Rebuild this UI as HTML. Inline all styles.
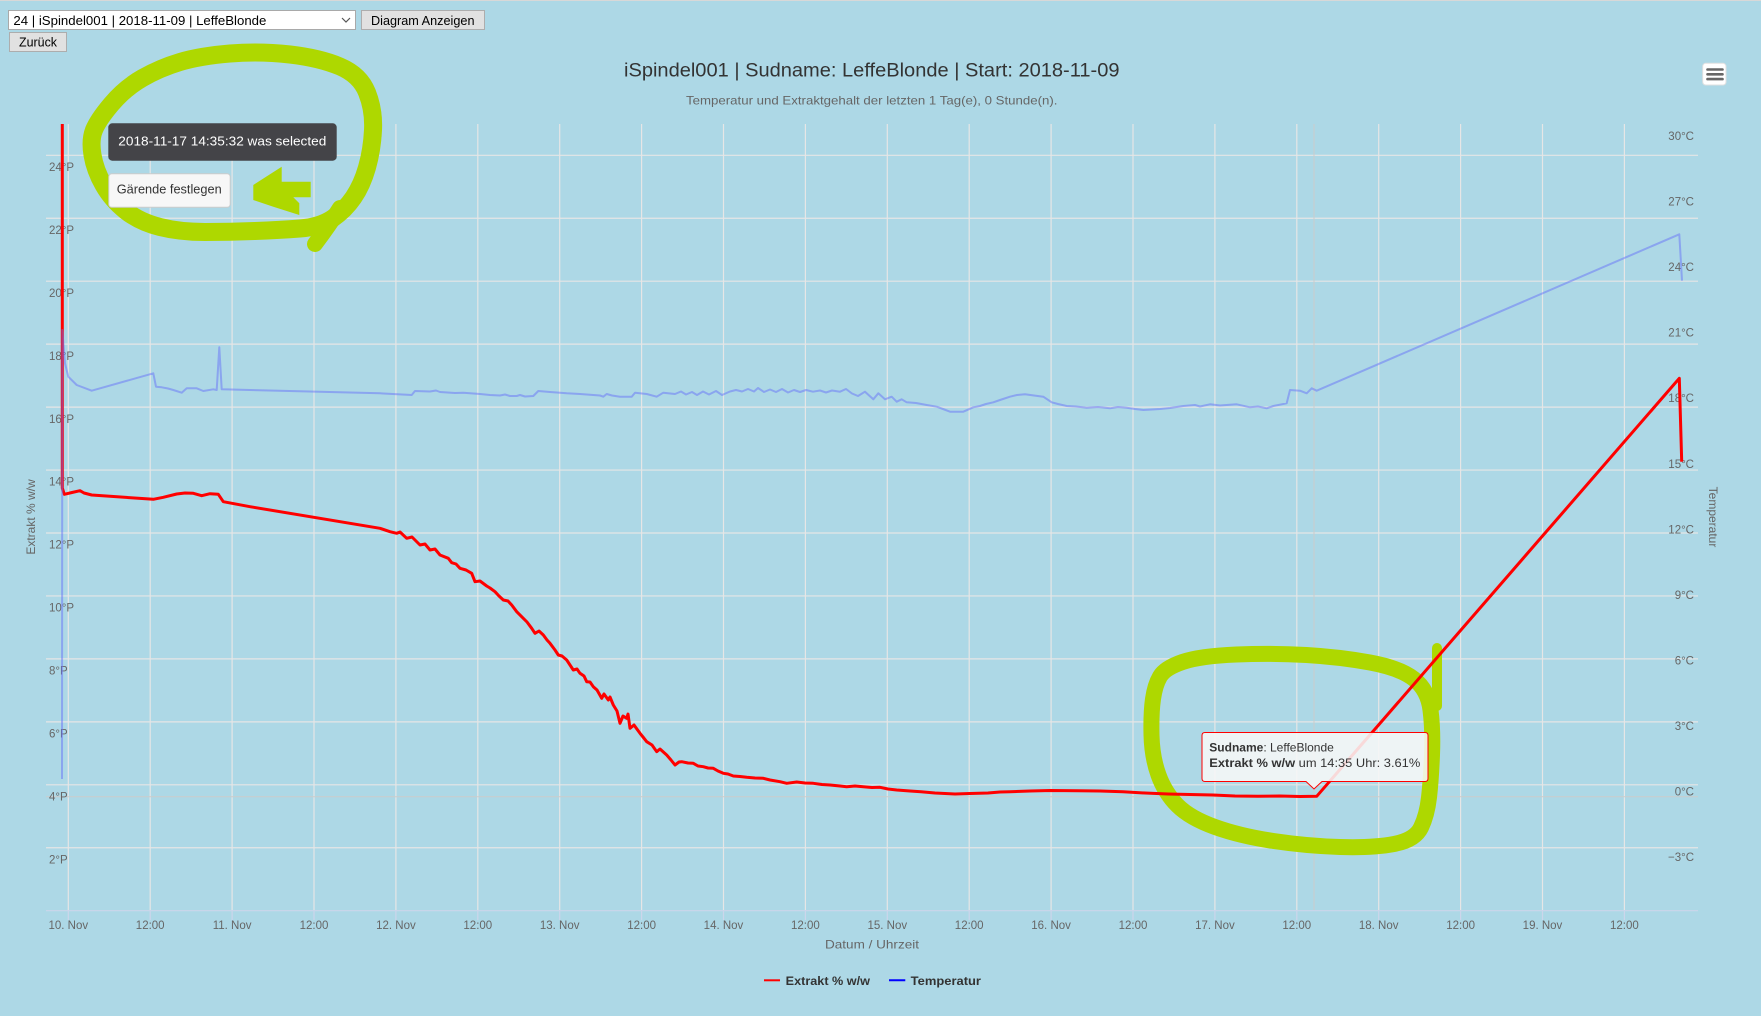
<!DOCTYPE html>
<html><head><meta charset="utf-8"><style>
html,body{margin:0;padding:0;background:#add8e6;}
svg{display:block;}
text{font-family:"Liberation Sans",sans-serif;}
</style></head><body>
<svg width="1761" height="1016" viewBox="0 0 1761 1016" xmlns="http://www.w3.org/2000/svg">
<rect x="0" y="0" width="1761" height="1016" fill="#add8e6"/>
<rect x="0" y="0" width="1761" height="1" fill="#d8d8d8"/>

<!-- form controls -->
<rect x="8.5" y="10.5" width="347" height="19" fill="#fff" stroke="#a9a9a9"/>
<text x="13.4" y="25" font-size="13" fill="#000" textLength="253" lengthAdjust="spacingAndGlyphs">24 | iSpindel001 | 2018-11-09 | LeffeBlonde</text>
<path d="M342 18 L346 22 L350 18" fill="none" stroke="#555" stroke-width="1.2"/>
<rect x="361.5" y="10.5" width="123" height="19" fill="#e1e1e1" stroke="#adadad"/>
<text x="371" y="25" font-size="13" fill="#000" textLength="103.5" lengthAdjust="spacingAndGlyphs">Diagram Anzeigen</text>
<rect x="9.5" y="32.5" width="57" height="19" fill="#e1e1e1" stroke="#adadad"/>
<text x="19" y="46.7" font-size="13" fill="#000" textLength="38" lengthAdjust="spacingAndGlyphs">Zurück</text>

<!-- title -->
<text x="624" y="76.7" font-size="19" fill="#333" textLength="495.5" lengthAdjust="spacingAndGlyphs">iSpindel001 | Sudname: LeffeBlonde | Start: 2018-11-09</text>
<text x="686" y="104.7" font-size="12" fill="#666" textLength="371.5" lengthAdjust="spacingAndGlyphs">Temperatur und Extraktgehalt der letzten 1 Tag(e), 0 Stunde(n).</text>

<!-- menu icon -->
<rect x="1702.7" y="63.3" width="23.3" height="21.7" rx="3" fill="#fff" stroke="#e0e0e0"/>
<g stroke="#666" stroke-width="2.6" stroke-linecap="round">
<line x1="1707.5" y1="69.5" x2="1722.5" y2="69.5"/>
<line x1="1707.5" y1="74.3" x2="1722.5" y2="74.3"/>
<line x1="1707.5" y1="79.1" x2="1722.5" y2="79.1"/>
</g>

<!-- gridlines -->
<g stroke="#e6e6e6" stroke-width="1.2">
<line x1="46" y1="155.3" x2="1698" y2="155.3"/>
<line x1="46" y1="218.25" x2="1698" y2="218.25"/>
<line x1="46" y1="281.2" x2="1698" y2="281.2"/>
<line x1="46" y1="344.15" x2="1698" y2="344.15"/>
<line x1="46" y1="407.1" x2="1698" y2="407.1"/>
<line x1="46" y1="470.05" x2="1698" y2="470.05"/>
<line x1="46" y1="533" x2="1698" y2="533"/>
<line x1="46" y1="595.95" x2="1698" y2="595.95"/>
<line x1="46" y1="658.9" x2="1698" y2="658.9"/>
<line x1="46" y1="721.85" x2="1698" y2="721.85"/>
<line x1="46" y1="784.8" x2="1698" y2="784.8"/>
<line x1="46" y1="847.75" x2="1698" y2="847.75"/>
</g>
<g stroke="#e6e6e6" stroke-width="1.2">
<line x1="68.3" y1="124" x2="68.3" y2="910"/>
<line x1="150.2" y1="124" x2="150.2" y2="910"/>
<line x1="232.1" y1="124" x2="232.1" y2="910"/>
<line x1="314" y1="124" x2="314" y2="910"/>
<line x1="395.9" y1="124" x2="395.9" y2="910"/>
<line x1="477.8" y1="124" x2="477.8" y2="910"/>
<line x1="559.7" y1="124" x2="559.7" y2="910"/>
<line x1="641.6" y1="124" x2="641.6" y2="910"/>
<line x1="723.5" y1="124" x2="723.5" y2="910"/>
<line x1="805.4" y1="124" x2="805.4" y2="910"/>
<line x1="887.3" y1="124" x2="887.3" y2="910"/>
<line x1="969.2" y1="124" x2="969.2" y2="910"/>
<line x1="1051.1" y1="124" x2="1051.1" y2="910"/>
<line x1="1133" y1="124" x2="1133" y2="910"/>
<line x1="1214.9" y1="124" x2="1214.9" y2="910"/>
<line x1="1296.8" y1="124" x2="1296.8" y2="910"/>
<line x1="1378.7" y1="124" x2="1378.7" y2="910"/>
<line x1="1460.6" y1="124" x2="1460.6" y2="910"/>
<line x1="1542.5" y1="124" x2="1542.5" y2="910"/>
<line x1="1624.4" y1="124" x2="1624.4" y2="910"/>
</g>
<!-- axis line + ticks -->
<line x1="46" y1="910.7" x2="1698" y2="910.7" stroke="#ccd6eb" stroke-width="1.2"/>
<g stroke="#ccd6eb" stroke-width="1.2">
<line x1="68.3" y1="910" x2="68.3" y2="920"/><line x1="150.2" y1="910" x2="150.2" y2="920"/>
<line x1="232.1" y1="910" x2="232.1" y2="920"/><line x1="314" y1="910" x2="314" y2="920"/>
<line x1="395.9" y1="910" x2="395.9" y2="920"/><line x1="477.8" y1="910" x2="477.8" y2="920"/>
<line x1="559.7" y1="910" x2="559.7" y2="920"/><line x1="641.6" y1="910" x2="641.6" y2="920"/>
<line x1="723.5" y1="910" x2="723.5" y2="920"/><line x1="805.4" y1="910" x2="805.4" y2="920"/>
<line x1="887.3" y1="910" x2="887.3" y2="920"/><line x1="969.2" y1="910" x2="969.2" y2="920"/>
<line x1="1051.1" y1="910" x2="1051.1" y2="920"/><line x1="1133" y1="910" x2="1133" y2="920"/>
<line x1="1214.9" y1="910" x2="1214.9" y2="920"/><line x1="1296.8" y1="910" x2="1296.8" y2="920"/>
<line x1="1378.7" y1="910" x2="1378.7" y2="920"/><line x1="1460.6" y1="910" x2="1460.6" y2="920"/>
<line x1="1542.5" y1="910" x2="1542.5" y2="920"/><line x1="1624.4" y1="910" x2="1624.4" y2="920"/>
</g>

<!-- crosshairs -->
<line x1="1314" y1="124" x2="1314" y2="910" stroke="#cccccc" stroke-width="1"/>
<line x1="46" y1="796.8" x2="1698" y2="796.8" stroke="#cccccc" stroke-width="1"/>

<!-- left axis labels -->
<g font-size="11.5" fill="#666">
<text x="49" y="171">24°P</text>
<text x="49" y="233.9">22°P</text>
<text x="49" y="296.9">20°P</text>
<text x="49" y="359.8">18°P</text>
<text x="49" y="422.8">16°P</text>
<text x="49" y="485.7">14°P</text>
<text x="49" y="548.7">12°P</text>
<text x="49" y="611.6">10°P</text>
<text x="49" y="674.6">8°P</text>
<text x="49" y="737.5">6°P</text>
<text x="49" y="800.5">4°P</text>
<text x="49" y="863.4">2°P</text>
</g>
<text transform="translate(35,517) rotate(-90)" text-anchor="middle" font-size="12" fill="#666">Extrakt % w/w</text>

<!-- right axis labels -->
<g font-size="11.5" fill="#666" text-anchor="end">
<text x="1694" y="140">30°C</text>
<text x="1694" y="205.6">27°C</text>
<text x="1694" y="271.1">24°C</text>
<text x="1694" y="336.7">21°C</text>
<text x="1694" y="402.2">18°C</text>
<text x="1694" y="467.8">15°C</text>
<text x="1694" y="533.3">12°C</text>
<text x="1694" y="598.9">9°C</text>
<text x="1694" y="664.4">6°C</text>
<text x="1694" y="730">3°C</text>
<text x="1694" y="795.5">0°C</text>
<text x="1694" y="861">−3°C</text>
</g>
<text transform="translate(1709,517) rotate(90)" text-anchor="middle" font-size="12" fill="#666">Temperatur</text>

<!-- x axis labels -->
<g font-size="11.5" fill="#666" text-anchor="middle">
<text x="68.3" y="929">10. Nov</text><text x="150.2" y="929">12:00</text>
<text x="232.1" y="929">11. Nov</text><text x="314" y="929">12:00</text>
<text x="395.9" y="929">12. Nov</text><text x="477.8" y="929">12:00</text>
<text x="559.7" y="929">13. Nov</text><text x="641.6" y="929">12:00</text>
<text x="723.5" y="929">14. Nov</text><text x="805.4" y="929">12:00</text>
<text x="887.3" y="929">15. Nov</text><text x="969.2" y="929">12:00</text>
<text x="1051.1" y="929">16. Nov</text><text x="1133" y="929">12:00</text>
<text x="1214.9" y="929">17. Nov</text><text x="1296.8" y="929">12:00</text>
<text x="1378.7" y="929">18. Nov</text><text x="1460.6" y="929">12:00</text>
<text x="1542.5" y="929">19. Nov</text><text x="1624.4" y="929">12:00</text>
</g>
<text x="825" y="948.3" font-size="12" fill="#666" textLength="94" lengthAdjust="spacingAndGlyphs">Datum / Uhrzeit</text>

<!-- legend -->
<line x1="764" y1="980.3" x2="780" y2="980.3" stroke="#ff0000" stroke-width="2"/>
<text x="785.7" y="985" font-size="12" font-weight="bold" fill="#333" textLength="84.3" lengthAdjust="spacingAndGlyphs">Extrakt % w/w</text>
<line x1="889" y1="980.3" x2="905.3" y2="980.3" stroke="#0000ff" stroke-width="2"/>
<text x="910.7" y="985" font-size="12" font-weight="bold" fill="#333" textLength="70.3" lengthAdjust="spacingAndGlyphs">Temperatur</text>

<!-- green annotations -->
<g fill="none" stroke="#aed800" stroke-linecap="round" stroke-linejoin="round">
<path stroke-width="18" d="M94,130 Q98,120 111.5,104 Q125,88 142.5,78 Q160,68 180,62 Q200,56 230,53.5 Q260,51 290,54.5 Q320,58 340,66.5 Q360,75 367,92.5 Q374,110 373,130 Q372,150 367,167.5 Q362,185 353.5,197.5 Q345,210 332.5,218.5 Q320,227 300,228.5 Q280,230 255,231 Q230,232 205,232 Q180,232 160,227 Q140,222 126,211 Q112,200 103.5,185 Q95,170 92.5,155 Q90,140 94,130 Z"/>
<path stroke-width="16" d="M340,208 Q330,224 315,244"/>
<path stroke-width="16" d="M1160,676.5 Q1165,668 1182.5,662 Q1200,656 1236.5,654.5 Q1273,653 1306.5,655 Q1340,657 1370,662.5 Q1400,668 1414,679 Q1428,690 1430.5,710 Q1433,730 1432,755 Q1431,780 1429,797.5 Q1427,815 1421,827.5 Q1415,840 1394,844 Q1373,848 1340,847 Q1307,846 1273.5,841 Q1240,836 1215,827 Q1190,818 1177.5,805.5 Q1165,793 1158.5,775 Q1152,757 1151.5,735 Q1151,713 1153,699 Q1155,685 1160,676.5 Z"/>
<path stroke-width="10" d="M1437,648 L1437,706"/>
</g>
<polygon fill="#aed800" points="253.3,185 281.7,166.7 281.7,181.7 310.7,181.7 310.7,197.3 293.3,197.3 299.3,203.3 299.3,215 273.3,206.7 253.3,200"/>

<!-- red series -->
<polyline fill="none" stroke="#ff0000" stroke-width="3" stroke-linejoin="round" points="62.3,124 62.3,488 64.3,494.3 72,492.5 80,490.7 84,493 91.7,495 153.3,499.3 163.3,497.3 176.7,494 185,493 193.3,493.3 201.7,495.7 210,493.7 218.3,494.3 223.3,501.7 250,506.7 380,528.3 390,531.7 396.7,533.3 400,532 406.7,538.3 412,537 420,545 425,544 430,550 435,549 440,555 448.3,558.3 451.7,562.7 456,564 460,568.3 466,570 471.7,573.3 475,581.7 480,581 486.7,586 490,588 495,591.7 499,596 503.3,600 508,601 511.7,605 516.7,611.7 523.3,618.3 527,622 531.7,628.3 535,633.3 539,631 543.3,635 547,640 550,643.3 555,650 558.3,655 562,656 566.7,660 570,665 573.3,670 577,669 580,673.3 584,676 586.7,681.7 590,682 593.3,686.7 597,690 601.7,698.3 604,694 608.3,700 610,697 613.3,705 617,711 620,723.3 623,716 626.7,718.3 628,714 630,728.3 634,725 640,733.3 643,737 646.7,741.7 652,745 656.7,751.7 660,749 666.7,755 671,760 675,765 679,762 681.7,761.7 688,763 693.3,763.3 698,766 703.3,766.7 708,768 713.3,768.3 718,771 723.3,773.3 728,774 733.3,776 740,776.5 746.7,777.3 755,778 763.3,778.3 770,780 780,781.7 786.7,783.3 796.7,782 805,783 813.3,783.3 822,784.5 830,785 840,786 846.7,786.7 855,786 863.3,786.7 872,787.5 880,787.3 888,789 896.7,790 910,791 921,791.8 935,793 955,794 970,793.5 988,793 1000,792 1010,791.8 1030,791 1050,790.5 1078,790.7 1100,791 1123,791.8 1145,793 1168,794 1190,794.5 1213,795 1235,796 1258,796.3 1280,796 1300,796.5 1316.7,796.3 1679.3,378.3 1681.7,461.7"/>

<!-- blue series -->
<polyline fill="none" stroke="#6772f8" stroke-opacity="0.5" stroke-width="2" stroke-linejoin="round" points="62,779 62.3,330 65,363.3 68.3,376.7 76.7,385 91.7,390.7 153.3,373.3 156,386.7 161.7,387.3 168,388.5 173.3,390 181.7,392.7 186.7,388.3 196.7,388.3 203.3,391 213.3,389.3 216.7,390 219.3,347.3 221.7,389.3 250,390 380,393.3 411.7,395 415,391 430,391.5 436,390.5 440,392 455,393 463.3,392.7 480,394 490,395 500,395.5 505,394.5 510,396 516.7,396 520,395 525,396.5 533.3,396 538.3,391 550,392 566.7,393.3 580,394 600,395.5 603.3,396.7 606.7,394 612,395.5 620,396.7 631.7,396.7 635,392.7 646.7,394 656.7,396.7 663.3,392.7 675,394 681,391.5 686,394.5 692,392 697,395 703,391.5 709,394.5 716,391 722,395 730,391.5 736,390 742,391.5 748,389 754,391.5 758,388 764,392 770,389.5 776,392 782,389 788,392.5 794,390 800,392 806,390 813,391.7 820,390.5 826,392.5 832,390.5 840,391.7 846,389 852,393.5 858,396 865,391.7 873.3,399.3 878.3,393.3 885,399.3 891.7,396.7 896.7,401.7 901.7,399.3 906.7,402.3 916,403 926.7,405 936.7,406.7 943,409 950,411.7 963.3,411.7 973.3,407.3 980,406 986,404 993.3,402.3 1000,400 1010,396.7 1017,395 1025,394.3 1034,395.5 1043.3,396.7 1051.7,402.3 1058,404 1066.7,406 1076,406.5 1086.7,407.7 1098,407 1110,408.3 1118,407 1126.7,407.7 1135,409 1143.3,410 1152,409.5 1160,409 1170,408 1183.3,406 1195,405 1200,406.5 1210,404.3 1220,405.5 1236.7,404.3 1250,407.3 1258,406.5 1266.7,408.3 1273.3,406 1286.7,403.3 1290,390 1300,390.7 1306.7,393.3 1311.7,388.3 1316.7,390.7 1679.3,234.3 1682,280.7"/>

<!-- data tooltip -->
<path d="M1205,732.5 L1425,732.5 Q1428,732.5 1428,735.5 L1428,778.5 Q1428,781.5 1425,781.5 L1322,781.5 L1314,789 L1306,781.5 L1205,781.5 Q1202,781.5 1202,778.5 L1202,735.5 Q1202,732.5 1205,732.5 Z" fill="rgba(247,247,247,0.88)" stroke="#ff0000" stroke-width="1"/>
<text x="1209.3" y="751.5" font-size="12" fill="#333"><tspan font-weight="bold">Sudname</tspan>: LeffeBlonde</text>
<text x="1209.3" y="766.8" font-size="12" fill="#333" textLength="211" lengthAdjust="spacingAndGlyphs"><tspan font-weight="bold">Extrakt % w/w</tspan> um 14:35 Uhr: 3.61%</text>

<!-- selection popup -->
<rect x="108.3" y="123.3" width="228.4" height="37.4" rx="4" fill="#444448"/>
<text x="118.3" y="145.5" font-size="13" fill="#fff" textLength="208" lengthAdjust="spacingAndGlyphs">2018-11-17 14:35:32 was selected</text>
<rect x="108.8" y="173.8" width="121.4" height="33.5" rx="3" fill="#f7f7f7" stroke="#cccccc"/>
<text x="116.7" y="193.5" font-size="13" fill="#333" textLength="105" lengthAdjust="spacingAndGlyphs">Gärende festlegen</text>
</svg>
</body></html>
